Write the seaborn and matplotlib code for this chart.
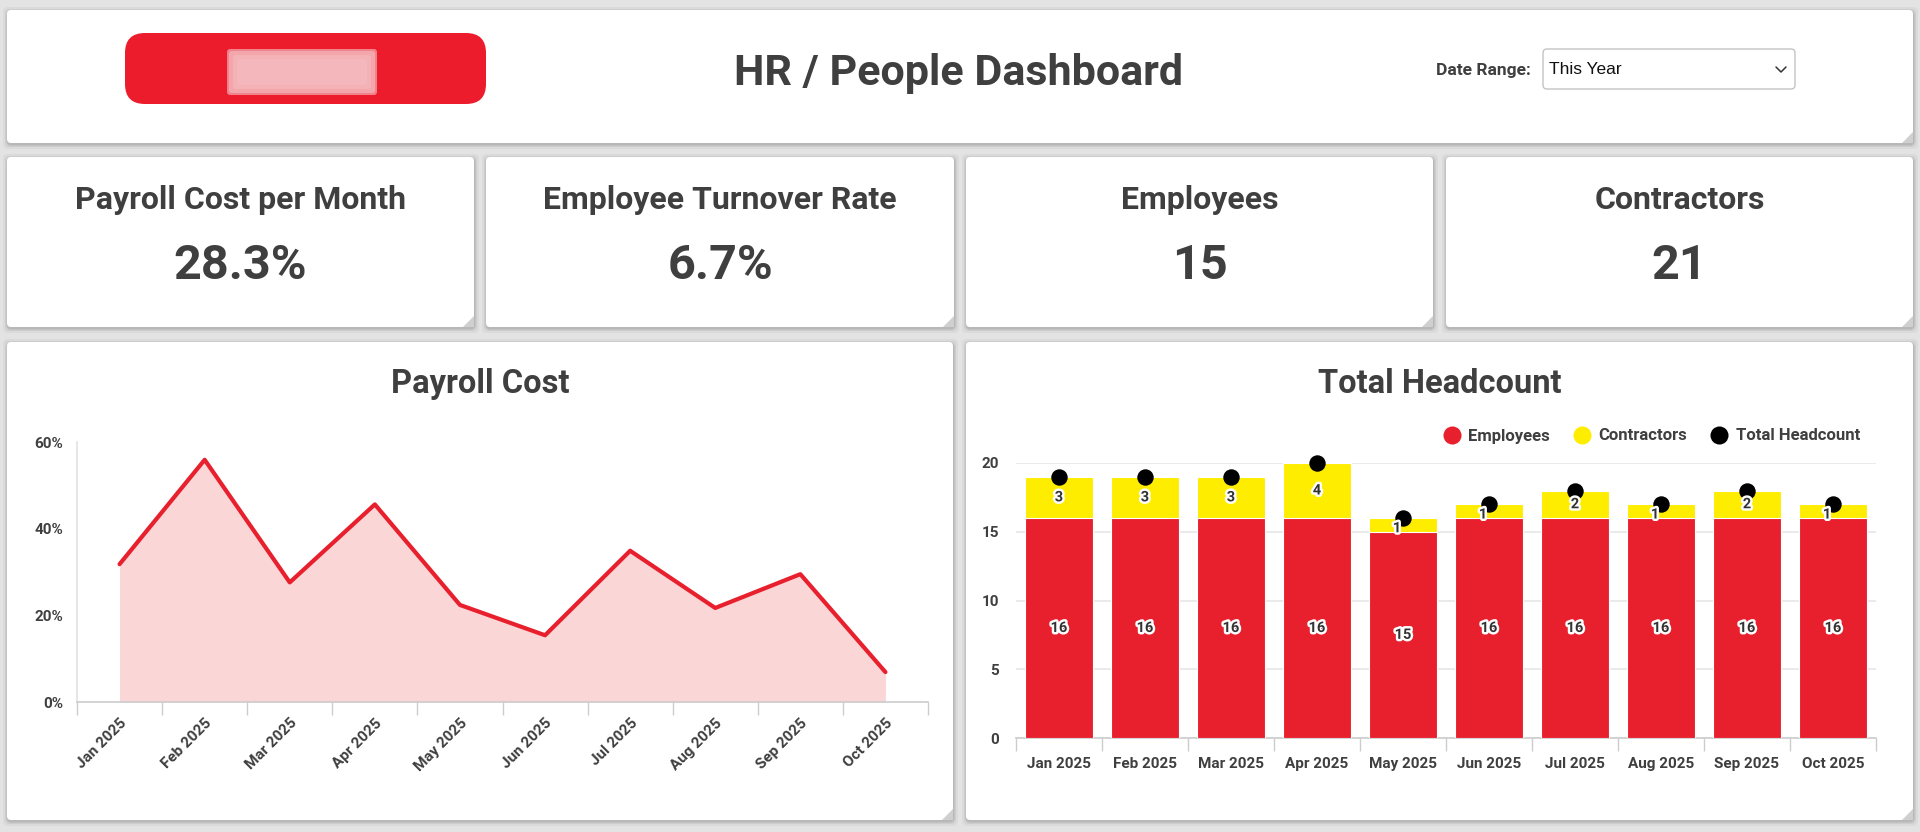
import numpy as np
import pandas as pd
import matplotlib
matplotlib.use("Agg")
import matplotlib.pyplot as plt
import seaborn as sns
from matplotlib.patches import FancyBboxPatch, Polygon
from matplotlib.lines import Line2D
from matplotlib.transforms import IdentityTransform
import matplotlib.patheffects as pe

# ---------------- data ----------------
months = ["Jan 2025", "Feb 2025", "Mar 2025", "Apr 2025", "May 2025",
          "Jun 2025", "Jul 2025", "Aug 2025", "Sep 2025", "Oct 2025"]
payroll_pct = [31.8, 55.9, 27.6, 45.6, 22.4, 15.4, 34.9, 21.7, 29.5, 6.9]
employees = [16, 16, 16, 16, 15, 16, 16, 16, 16, 16]
contractors = [3, 3, 3, 4, 1, 1, 2, 1, 2, 1]
payroll_yticks = [0, 20, 40, 60]
headcount_yticks = [0, 5, 10, 15, 20]
kpi_titles = ["Payroll Cost per Month", "Employee Turnover Rate", "Employees", "Contractors"]
kpi_values = ["28.3%", "6.7%", "15", "21"]
dashboard_title = "HR / People Dashboard"
date_label = "Date Range:"
date_value = "This Year"
series_names = ["Employees", "Contractors", "Total Headcount"]

RED = "#E8202E"
YELLOW = "#FFED00"
PINK = "#FBD6D6"
TXT = "#3f3f3f"

sns.set_theme(style="white")
plt.rcParams["font.family"] = ["Roboto", "DejaVu Sans"]

W, H = 1920, 832
fig = plt.figure(figsize=(W / 100, H / 100), dpi=100)
fig.patch.set_facecolor("#e3e3e3")
ID = IdentityTransform()


def fx(x):
    return x / W


def fy(y):
    return 1 - y / H


def card(x0, y0, x1, y1):
    for d, a in [(5, 0.04), (3, 0.06), (1.5, 0.10)]:
        fig.patches.append(FancyBboxPatch((x0 - d + 1, H - y1 - d - 1), (x1 - x0) + 2 * d - 1,
                                          (y1 - y0) + 2 * d - 1,
                                          boxstyle="round,pad=0,rounding_size=5",
                                          transform=ID, fc="black", ec="none", alpha=a, zorder=0))
    fig.patches.append(FancyBboxPatch((x0, H - y1), x1 - x0, y1 - y0,
                                      boxstyle="round,pad=0,rounding_size=4",
                                      transform=ID, fc="white", ec="none", zorder=1))
    fig.patches.append(Polygon([(x1 - 11, H - y1), (x1, H - y1 + 11), (x1, H - y1)],
                               closed=True, transform=ID, fc="#cfcfcf", ec="none", zorder=2))


# ---------------- header ----------------
card(7, 10, 1913, 143)
fig.patches.append(FancyBboxPatch((125, H - 104), 361, 71, boxstyle="round,pad=0,rounding_size=20",
                                  transform=ID, fc="#EC1C2D", ec="none", zorder=3))
for d, a in [(10, 0.25), (6, 0.35), (2, 0.5), (0, 0.6)]:
    fig.patches.append(FancyBboxPatch((227 + d, H - 95 + d), 150 - 2 * d, 46 - 2 * d,
                                      boxstyle="round,pad=0,rounding_size=3", transform=ID,
                                      fc="#f6c9cd", ec="none", alpha=a, zorder=4))
fig.text(fx(959), fy(73), dashboard_title, ha="center", va="center", fontsize=31,
         fontweight="bold", color=TXT, zorder=5)
fig.text(fx(1531), fy(70), date_label, ha="right", va="center", fontsize=12.5,
         fontweight="bold", color=TXT, zorder=5)
fig.patches.append(FancyBboxPatch((1543, H - 89), 252, 40, boxstyle="round,pad=0,rounding_size=4",
                                  transform=ID, fc="white", ec="#c4c4c4", lw=1, zorder=3))
fig.text(fx(1549), fy(70), date_value, ha="left", va="center", fontsize=12.5,
         color="#111111", family=["Liberation Sans", "DejaVu Sans"], zorder=5)
fig.lines.append(Line2D([1776, 1781, 1786], [H - 67, H - 72, H - 67], transform=ID,
                        color="#333333", lw=1.1, zorder=5))

# ---------------- KPI cards ----------------
kpi_x = [(7, 474), (486, 954), (966, 1433), (1446, 1913)]
for (x0, x1), t, v in zip(kpi_x, kpi_titles, kpi_values):
    card(x0, 157, x1, 327)
    cx = (x0 + x1) / 2
    fig.text(fx(cx), fy(200), t, ha="center", va="center", fontsize=23,
             fontweight="bold", color=TXT, zorder=5)
    fig.text(fx(cx), fy(266), v, ha="center", va="center", fontsize=35,
             fontweight="bold", color=TXT, zorder=5)

# ---------------- bottom cards ----------------
card(7, 342, 953, 820)
card(966, 342, 1913, 820)
fig.text(fx(480), fy(384), "Payroll Cost", ha="center", va="center", fontsize=23.5,
         fontweight="bold", color=TXT, zorder=5)
fig.text(fx(1440), fy(384), "Total Headcount", ha="center", va="center", fontsize=23.5,
         fontweight="bold", color=TXT, zorder=5)

# ---------------- Payroll Cost area chart ----------------
ax1 = fig.add_axes([fx(77), fy(702), (928 - 77) / W, (702 - 442) / H])
ax1.set_zorder(5)
ax1.patch.set_alpha(0)
xpos = np.arange(len(months))
dfp = pd.DataFrame({"x": xpos, "pct": payroll_pct})
ax1.fill_between(dfp["x"], dfp["pct"], color=PINK, lw=0, zorder=1)
sns.lineplot(data=dfp, x="x", y="pct", color=RED, lw=3, ax=ax1, zorder=3)
ax1.set_xlim(-0.5, len(months) - 0.5)
ax1.set_ylim(0, 60)
ax1.set_yticks(payroll_yticks)
ax1.set_yticklabels([f"{v}%" for v in payroll_yticks], fontsize=11, fontweight="bold", color=TXT)
ax1.set_xticks(xpos)
ax1.set_xticklabels(months, rotation=45, ha="right", rotation_mode="anchor",
                    fontsize=11, fontweight="bold", color=TXT)
ax1.set_xticks(np.arange(-0.5, len(months)), minor=True)
ax1.tick_params(axis="x", which="major", length=0, pad=10)
ax1.tick_params(axis="x", which="minor", length=9, color="#cccccc", width=1, direction="out", bottom=True)
ax1.tick_params(axis="y", length=0, pad=10)
ax1.set_xlabel("")
ax1.set_ylabel("")
for s in ["top", "right"]:
    ax1.spines[s].set_visible(False)
ax1.spines["left"].set_color("#e3e3e3")
ax1.spines["bottom"].set_color("#cccccc")
ax1.spines["bottom"].set_linewidth(1.2)

# ---------------- Total Headcount stacked bars ----------------
ax2 = fig.add_axes([fx(1016), fy(738), (1876 - 1016) / W, (738 - 463) / H])
ax2.set_zorder(5)
ax2.patch.set_alpha(0)
totals = [e + c for e, c in zip(employees, contractors)]
dfh = pd.DataFrame({"month": months, "Employees": employees,
                    "Contractors": contractors, "Total": totals})
sns.barplot(data=dfh, x="month", y="Total", color=YELLOW, saturation=1, width=0.8,
            edgecolor="white", linewidth=0.8, ax=ax2, zorder=2)
sns.barplot(data=dfh, x="month", y="Employees", color=RED, saturation=1, width=0.8,
            edgecolor="white", linewidth=0.8, ax=ax2, zorder=3)
sns.scatterplot(x=xpos, y=totals, color="black", s=140, edgecolor="black", linewidth=0,
                ax=ax2, zorder=6, clip_on=False)
halo = [pe.withStroke(linewidth=3.5, foreground="white")]
for i, (e, c) in enumerate(zip(employees, contractors)):
    ax2.text(i, e / 2, str(e), ha="center", va="center", fontsize=10.5, fontweight="bold",
             color="#333333", path_effects=halo, zorder=7)
    ax2.text(i - (0.07 if c == 1 else 0), e + c / 2 - (0.25 if c == 1 else 0), str(c),
             ha="center", va="center", fontsize=10.5, fontweight="bold",
             color="#333333", path_effects=halo, zorder=7)
ax2.set_xlim(-0.5, len(months) - 0.5)
ax2.set_ylim(0, 20)
ax2.set_yticks(headcount_yticks)
ax2.set_yticklabels([str(v) for v in headcount_yticks], fontsize=11, fontweight="bold", color=TXT)
ax2.yaxis.grid(True, color="#e6e6e6", lw=1.2)
ax2.set_axisbelow(True)
ax2.set_xticks(xpos)
ax2.set_xticklabels(months, fontsize=11, fontweight="bold", color=TXT)
ax2.set_xticks(np.arange(-0.5, len(months)), minor=True)
ax2.tick_params(axis="x", which="major", length=0, pad=14)
ax2.tick_params(axis="x", which="minor", length=9, color="#cccccc", width=1, direction="out", bottom=True)
ax2.tick_params(axis="y", length=0, pad=12)
ax2.set_xlabel("")
ax2.set_ylabel("")
for s in ["top", "right", "left"]:
    ax2.spines[s].set_visible(False)
ax2.spines["bottom"].set_color("#cccccc")
ax2.spines["bottom"].set_linewidth(1.2)

handles = [Line2D([], [], marker="o", ls="", markersize=13, color=col, markeredgewidth=0)
           for col in [RED, YELLOW, "black"]]
leg = fig.legend(handles, series_names, loc="center right", bbox_to_anchor=(fx(1860), fy(436)),
                 ncol=3, frameon=False, handlelength=1.2, handletextpad=0.4, columnspacing=1.3,
                 prop={"weight": "bold", "size": 12}, borderaxespad=0, borderpad=0)
for t in leg.get_texts():
    t.set_color(TXT)
leg.set_zorder(10)

fig.savefig("out.png", dpi=100, facecolor=fig.get_facecolor())
